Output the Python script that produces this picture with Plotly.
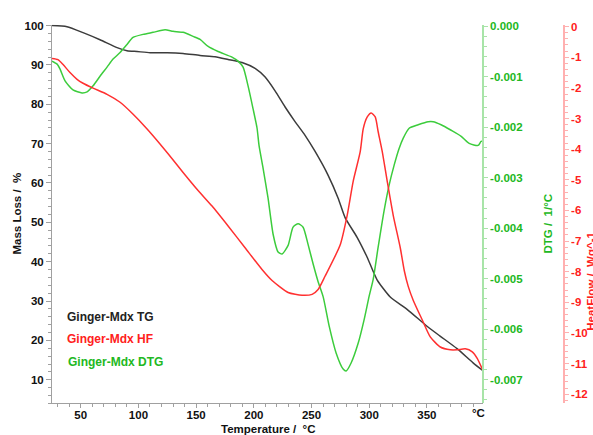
import plotly.graph_objects as go

W, H = 593, 435

# ---------------- data ----------------
TG_T = [25.1, 38.1, 52.0, 66.7, 81.5, 90.1, 98.8, 110.1, 124.8, 138.7, 153.4, 166.4, 177.7,
        189.8, 201.1, 209.8, 218.4, 227.1, 235.7, 244.4, 253.1, 264.3, 273.0, 279.1, 289.5,
        298.1, 306.8, 318.0, 332.8, 350.1, 361.4, 376.1, 390.0, 398.6]
TG = [100.0, 99.7, 98.2, 96.4, 94.4, 93.6, 93.4, 93.1, 93.1, 92.9, 92.4, 92.1, 91.4,
      90.6, 89.1, 86.9, 83.4, 79.3, 75.6, 72.1, 68.0, 62.0, 56.2, 51.2, 46.2,
      41.2, 35.4, 31.1, 27.9, 23.6, 21.1, 17.9, 14.3, 12.3]

HF_T = [25.1, 30.3, 34.7, 40.7, 46.8, 52.0, 60.7, 72.8, 84.1, 95.4, 107.5, 118.7, 125.7,
        138.7, 151.7, 163.8, 177.7, 192.4, 207.1, 215.8, 229.7, 241.8, 250.5, 255.7, 261.7,
        274.8, 280.9, 286.1, 292.2, 294.8, 298.3, 301.7, 305.2, 307.8, 311.3, 315.6, 320.8,
        326.9, 330.4, 333.8, 338.2, 346.0, 352.9, 361.6, 370.3, 376.3, 383.3, 389.3, 393.7, 398.9]
HF = [-1.04, -1.08, -1.24, -1.50, -1.72, -1.85, -2.01, -2.21, -2.47, -2.86, -3.34, -3.83, -4.15,
      -4.76, -5.35, -5.86, -6.51, -7.22, -7.93, -8.29, -8.68, -8.77, -8.74, -8.58, -8.15,
      -7.13, -6.16, -5.05, -4.08, -3.34, -2.95, -2.82, -2.95, -3.44, -4.08, -5.05, -6.16,
      -7.22, -7.97, -8.48, -8.94, -9.58, -10.13, -10.46, -10.55, -10.55, -10.52, -10.62, -10.84, -11.26]

DTG_T = [25.1, 29.5, 32.1, 36.4, 43.3, 51.1, 55.5, 60.7, 66.7, 72.8, 78.0, 84.1, 90.1, 95.3,
         104.0, 112.7, 123.1, 130.0, 138.7, 147.4, 153.4, 160.4, 169.0, 181.1, 186.3, 190.7,
         195.0, 199.3, 202.8, 204.5, 208.0, 212.3, 216.7, 221.0, 224.5, 229.7, 234.0, 238.4,
         242.7, 247.0, 251.4, 255.7, 260.1, 265.3, 271.3, 277.4, 280.0, 284.3, 290.4, 295.6,
         299.9, 303.4, 307.7, 312.9, 317.3, 321.6, 325.9, 329.4, 334.6, 342.4, 351.1, 355.4,
         362.3, 371.0, 379.7, 386.6, 394.4, 397.0, 398.6]
DTG = [-0.00069, -0.00075, -0.00085, -0.00108, -0.00126, -0.00132, -0.00130, -0.00118, -0.00099,
       -0.00081, -0.00065, -0.00052, -0.00036, -0.00022, -0.00016, -0.00012, -0.00007, -0.00010,
       -0.00012, -0.00020, -0.00026, -0.00040, -0.00050, -0.00061, -0.00069, -0.00081, -0.00118,
       -0.00163, -0.00202, -0.00236, -0.00281, -0.00340, -0.00412, -0.00447, -0.00451, -0.00434,
       -0.00398, -0.00391, -0.00398, -0.00432, -0.00471, -0.00506, -0.00536, -0.00594, -0.00647,
       -0.00679, -0.00683, -0.00667, -0.00628, -0.00581, -0.00535, -0.00502, -0.00438, -0.00365,
       -0.00314, -0.00275, -0.00242, -0.00222, -0.00202, -0.00195, -0.00189, -0.00189, -0.00195,
       -0.00206, -0.00218, -0.00232, -0.00236, -0.00228, -0.00228]

X_TICKS = [50, 100, 150, 200, 250, 300, 350]
X_TICKTEXT = ["50", "100", "150", "200", "250", "300", "350"]
TG_TICKS = [10, 20, 30, 40, 50, 60, 70, 80, 90, 100]
DTG_TICKS = [0.0, -0.001, -0.002, -0.003, -0.004, -0.005, -0.006, -0.007]
DTG_TICKTEXT = ["0.000", "-0.001", "-0.002", "-0.003", "-0.004", "-0.005", "-0.006", "-0.007"]
HF_TICKS = [0, -1, -2, -3, -4, -5, -6, -7, -8, -9, -10, -11, -12]
HF_TICKTEXT = ["0", "-1", "-2", "-3", "-4", "-5", "-6", "-7", "-8", "-9", "-10", "-11", "-12"]

LEGEND = ["Ginger-Mdx TG", "Ginger-Mdx HF", "Ginger-Mdx DTG"]

# ---------------- styles ----------------
FONT = "Liberation Sans"
C_TG, C_HF, C_DTG = "#3c3c3c", "#ff3030", "#3ccc3c"
C_HF_TXT, C_DTG_TXT = "#ff2020", "#22b822"
C_AX = "#a0a0a0"
C_AX_HF, C_AX_DTG = "#ffb0b0", "#a8e4a8"
FS = 11.5

def px(x):
    return x / W

def py(y):
    return 1 - y / H

x0, x1 = 52, 483
y_top, y_bot = 20, 403

fig = go.Figure()
fig.add_trace(go.Scatter(x=TG_T, y=TG, mode="lines", name=LEGEND[0],
                         line=dict(color=C_TG, width=1.5, shape="spline", smoothing=0.6), yaxis="y"))
fig.add_trace(go.Scatter(x=HF_T, y=HF, mode="lines", name=LEGEND[1],
                         line=dict(color=C_HF, width=1.5, shape="spline", smoothing=0.6), yaxis="y3"))
fig.add_trace(go.Scatter(x=DTG_T, y=DTG, mode="lines", name=LEGEND[2],
                         line=dict(color=C_DTG, width=1.5, shape="spline", smoothing=0.6), yaxis="y2"))

tickfont = dict(family=FONT, size=FS, color="#111111", weight="bold")

fig.update_layout(
    width=W, height=H, margin=dict(l=0, r=0, t=0, b=0),
    paper_bgcolor="white", plot_bgcolor="white", showlegend=False,
    xaxis=dict(domain=[px(x0), px(x1)], range=[25.1, 398.6], showgrid=False, zeroline=False,
               showline=True, linecolor=C_AX, linewidth=1, ticks="outside", ticklen=4,
               tickcolor=C_AX, tickvals=X_TICKS, ticktext=X_TICKTEXT, tickfont=tickfont,
               ticklabelstandoff=-3,
               minor=dict(dtick=10, tick0=0, ticks="outside", ticklen=3, tickcolor=C_AX),
               anchor="y"),
    yaxis=dict(domain=[py(y_bot), py(y_top)], range=[4, 100.2], showgrid=False, zeroline=False,
               showline=True, linecolor=C_AX, linewidth=1, ticks="outside", ticklen=5,
               tickcolor=C_AX, tickvals=TG_TICKS, tickfont=tickfont,
               minor=dict(dtick=2, tick0=0, ticks="outside", ticklen=3, tickcolor=C_AX),
               anchor="x"),
    yaxis2=dict(overlaying="y", side="right", anchor="free", position=px(x1),
                range=[-0.00747, 0.00003], showgrid=False, zeroline=False,
                showline=True, linecolor=C_AX_DTG, linewidth=1.5, ticks="outside", ticklen=4,
                tickcolor=C_AX_DTG, tickvals=DTG_TICKS, ticktext=DTG_TICKTEXT,
                tickfont=dict(family=FONT, size=FS, color=C_DTG_TXT, weight="bold"),
                minor=dict(dtick=0.0002, tick0=0, ticks="outside", ticklen=3, tickcolor=C_AX_DTG)),
    yaxis3=dict(overlaying="y", side="right", anchor="free", position=px(564),
                range=[-12.3, 0.06], showgrid=False, zeroline=False,
                showline=True, linecolor=C_AX_HF, linewidth=1.5, ticks="outside", ticklen=4,
                tickcolor=C_AX_HF, tickvals=HF_TICKS, ticktext=HF_TICKTEXT,
                tickfont=dict(family=FONT, size=FS, color=C_HF_TXT, weight="bold"),
                minor=dict(dtick=0.2, tick0=0, ticks="outside", ticklen=3, tickcolor=C_AX_HF)),
)

def ann(text, x, y, color, angle=0, xanchor="center", size=FS):
    fig.add_annotation(text=text, x=px(x), y=py(y), xref="paper", yref="paper",
                       showarrow=False, textangle=angle, xanchor=xanchor, yanchor="middle",
                       font=dict(family=FONT, size=size, color=color, weight="bold"))

ann("Mass Loss /\u00a0 %", 17, 211, "#111111", -90)
ann("DTG /\u00a0 1/°C", 548, 221, C_DTG_TXT, -90)
ann("HeatFlow /\u00a0 Wg^-1", 591, 280, C_HF_TXT, -90)
ann("Temperature /\u00a0 °C", 268, 429, "#111111")
ann("°C", 478, 413, "#111111")

ann(LEGEND[0], 65, 316, "#222222", xanchor="left", size=12)
ann(LEGEND[1], 65, 338, C_HF_TXT, xanchor="left", size=12)
ann(LEGEND[2], 66, 361, C_DTG_TXT, xanchor="left", size=12)

fig.write_html("out.html")
